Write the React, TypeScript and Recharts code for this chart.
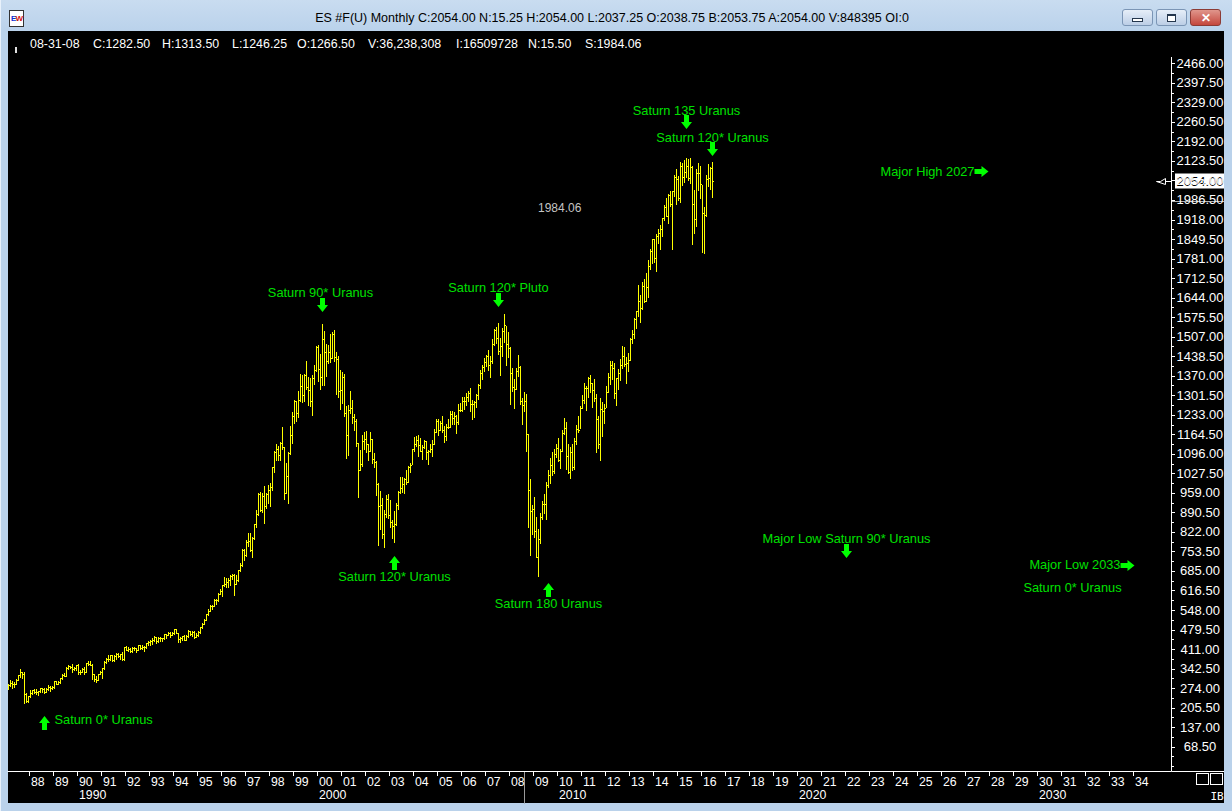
import { Bar, ComposedChart, ReferenceDot, ReferenceLine, XAxis, YAxis } from 'recharts';

// ES #F(U) monthly bars, Feb 1987 .. Jun 2016 (one row per year in the arrays below)
const FIRST_YEAR = 1987;
const FIRST_MONTH = 2;
const SLOT_COUNT = 582; // months on the time axis, runs on into 2035

const highs = [
  287.3, 301.9, 297.3, 296.4, 306.9, 319.0, 340.0, 330.0, 330.0, 256.0, 248.0,
  267.0, 268.5, 272.0, 270.0, 264.0, 274.0, 274.5, 274.0, 273.5, 284.0, 280.0, 280.0,
  298.0, 300.0, 298.0, 310.0, 322.0, 328.0, 347.0, 354.0, 353.0, 360.0, 347.0, 354.0,
  360.0, 337.0, 344.0, 347.0, 363.0, 369.0, 369.0, 358.0, 324.0, 318.0, 323.0, 333.0,
  344.0, 370.0, 378.0, 391.0, 390.0, 390.0, 391.0, 396.0, 396.0, 395.0, 399.0, 418.0,
  421.0, 418.0, 414.0, 418.0, 420.0, 416.0, 425.0, 425.0, 425.0, 423.0, 432.0, 441.0,
  443.0, 450.0, 456.0, 452.0, 453.0, 453.0, 451.0, 464.0, 464.0, 470.0, 470.0, 471.0,
  482.0, 482.0, 469.0, 453.0, 458.0, 462.0, 459.0, 477.0, 474.0, 474.0, 475.0, 466.0,
  473.0, 490.0, 503.0, 515.0, 534.0, 551.0, 564.0, 565.0, 587.0, 588.0, 609.0, 623.0,
  637.0, 664.0, 660.0, 659.0, 672.0, 673.0, 675.0, 672.0, 690.0, 714.0, 762.0, 761.0,
  795.0, 818.0, 817.0, 804.0, 851.0, 900.0, 957.0, 961.0, 960.0, 984.0, 960.0, 986.0,
  992.0, 1051.0, 1105.0, 1130.0, 1122.0, 1138.0, 1191.0, 1121.0, 1063.0, 1103.0, 1192.0, 1244.0,
  1285.0, 1282.0, 1317.0, 1375.0, 1372.0, 1375.0, 1421.0, 1367.0, 1361.0, 1373.0, 1408.0, 1474.0,
  1478.0, 1445.0, 1553.0, 1528.0, 1482.0, 1477.0, 1518.0, 1525.0, 1530.0, 1454.0, 1438.0, 1389.0,
  1384.0, 1377.0, 1263.0, 1269.0, 1316.0, 1286.0, 1236.0, 1218.0, 1134.0, 1110.0, 1163.0, 1173.0,
  1176.0, 1131.0, 1174.0, 1147.0, 1099.0, 1070.0, 994.0, 965.0, 942.0, 900.0, 952.0, 954.0,
  935.0, 864.0, 895.0, 924.0, 965.0, 1015.0, 1015.0, 1011.0, 1040.0, 1054.0, 1064.0, 1112.0,
  1155.0, 1159.0, 1163.0, 1150.0, 1128.0, 1146.0, 1141.0, 1110.0, 1131.0, 1143.0, 1183.0, 1218.0,
  1217.0, 1212.0, 1229.0, 1192.0, 1200.0, 1219.0, 1246.0, 1245.0, 1243.0, 1233.0, 1270.0, 1276.0,
  1295.0, 1297.0, 1310.0, 1318.0, 1326.0, 1284.0, 1281.0, 1306.0, 1340.0, 1390.0, 1407.0, 1432.0,
  1441.0, 1461.0, 1438.0, 1498.0, 1535.0, 1541.0, 1556.0, 1504.0, 1539.0, 1587.0, 1545.0, 1524.0,
  1472.0, 1396.0, 1359.0, 1397.0, 1441.0, 1405.0, 1292.0, 1313.5, 1305.0, 1167.0, 1007.0, 918.0,
  944.0, 876.0, 832.0, 888.0, 930.0, 956.0, 996.0, 1039.0, 1080.0, 1101.0, 1113.0, 1130.0,
  1150.0, 1113.0, 1180.0, 1220.0, 1206.0, 1131.0, 1120.0, 1129.0, 1150.0, 1196.0, 1227.0, 1263.0,
  1303.0, 1345.0, 1333.0, 1365.0, 1371.0, 1346.0, 1357.0, 1307.0, 1230.0, 1293.0, 1278.0, 1270.0,
  1333.0, 1378.0, 1420.0, 1422.0, 1416.0, 1363.0, 1392.0, 1427.0, 1475.0, 1471.0, 1434.0, 1448.0,
  1504.0, 1530.0, 1574.0, 1598.0, 1687.0, 1654.0, 1698.0, 1710.0, 1730.0, 1775.0, 1814.0, 1849.0,
  1851.0, 1867.0, 1884.0, 1897.0, 1925.0, 1968.0, 1992.0, 2006.0, 2019.0, 2019.0, 2075.0, 2094.0,
  2072.0, 2120.0, 2117.0, 2126.0, 2135.0, 2130.0, 2133.0, 2105.0, 2021.0, 2094.0, 2117.0, 2105.0,
  2038.0, 1963.0, 2073.0, 2111.0, 2103.0, 2120.0,
];

const lows = [
  271.9, 282.6, 276.0, 276.3, 288.7, 301.0, 313.5, 308.5, 222.0, 225.7, 224.0,
  243.0, 255.0, 256.0, 254.0, 249.0, 260.0, 262.0, 256.0, 260.0, 269.0, 263.0, 272.0,
  275.0, 287.0, 287.0, 292.0, 305.0, 315.0, 316.0, 340.0, 343.0, 330.0, 338.0, 339.0,
  322.0, 322.0, 331.0, 325.0, 330.0, 355.0, 354.0, 307.0, 300.0, 294.0, 301.0, 322.0,
  309.0, 341.0, 362.0, 370.0, 374.0, 368.0, 370.0, 377.0, 384.0, 377.0, 374.0, 371.0,
  407.0, 405.0, 400.0, 399.0, 408.0, 401.0, 406.0, 410.0, 413.0, 404.0, 416.0, 427.0,
  426.0, 429.0, 440.0, 432.0, 437.0, 441.0, 441.0, 447.0, 450.0, 459.0, 454.0, 460.0,
  464.0, 466.0, 436.0, 435.0, 442.0, 442.0, 443.0, 455.0, 460.0, 457.0, 449.0, 452.0,
  457.0, 469.0, 484.0, 499.0, 513.0, 530.0, 545.0, 551.0, 561.0, 570.0, 580.0, 603.0,
  597.0, 633.0, 628.0, 630.0, 636.0, 656.0, 601.0, 639.0, 649.0, 684.0, 703.0, 723.0,
  737.0, 773.0, 756.0, 733.0, 798.0, 839.0, 882.0, 897.0, 893.0, 855.0, 906.0, 922.0,
  912.0, 970.0, 1033.0, 1076.0, 1074.0, 1074.0, 1114.0, 939.0, 957.0, 923.0, 1097.0, 1133.0,
  1205.0, 1211.0, 1224.0, 1281.0, 1277.0, 1281.0, 1324.0, 1268.0, 1264.0, 1233.0, 1342.0, 1387.0,
  1350.0, 1325.0, 1339.0, 1339.0, 1369.0, 1416.0, 1418.0, 1431.0, 1420.0, 1305.0, 1294.0, 1254.0,
  1274.0, 1229.0, 1081.0, 1092.0, 1240.0, 1203.0, 1181.0, 1124.0, 945.0, 1038.0, 1054.0, 1114.0,
  1101.0, 1074.0, 1106.0, 1063.0, 1048.0, 952.0, 775.0, 833.0, 800.0, 768.0, 873.0, 872.0,
  840.0, 800.0, 788.0, 847.0, 902.0, 958.0, 962.0, 960.0, 990.0, 996.0, 1031.0, 1060.0,
  1106.0, 1124.0, 1088.0, 1107.0, 1077.0, 1118.0, 1078.0, 1060.0, 1102.0, 1090.0, 1131.0, 1173.0,
  1163.0, 1180.0, 1171.0, 1136.0, 1146.0, 1188.0, 1191.0, 1202.0, 1201.0, 1168.0, 1202.0, 1245.0,
  1245.0, 1253.0, 1268.0, 1280.0, 1245.0, 1219.0, 1224.0, 1261.0, 1290.0, 1327.0, 1360.0, 1385.0,
  1403.0, 1389.0, 1364.0, 1416.0, 1476.0, 1484.0, 1447.0, 1371.0, 1439.0, 1489.0, 1407.0, 1436.0,
  1271.0, 1317.0, 1257.0, 1324.0, 1370.0, 1272.0, 1200.0, 1246.3, 1107.0, 840.0, 741.0, 815.0,
  805.0, 735.0, 667.0, 783.0, 867.0, 888.0, 869.0, 979.0, 992.0, 1020.0, 1029.0, 1086.0,
  1071.0, 1045.0, 1106.0, 1165.0, 1041.0, 1029.0, 1011.0, 1040.0, 1041.0, 1132.0, 1174.0, 1187.0,
  1257.0, 1275.0, 1249.0, 1294.0, 1312.0, 1259.0, 1282.0, 1101.0, 1115.0, 1075.0, 1159.0, 1203.0,
  1259.0, 1312.0, 1341.0, 1358.0, 1292.0, 1266.0, 1325.0, 1354.0, 1396.0, 1403.0, 1343.0, 1385.0,
  1426.0, 1485.0, 1502.0, 1536.0, 1581.0, 1560.0, 1604.0, 1627.0, 1633.0, 1646.0, 1746.0, 1767.0,
  1770.0, 1737.0, 1834.0, 1814.0, 1859.0, 1915.0, 1930.0, 1904.0, 1965.0, 1814.0, 2001.0, 1973.0,
  1988.0, 1981.0, 2040.0, 2048.0, 2067.0, 2057.0, 2045.0, 1831.0, 1872.0, 1894.0, 2020.0, 1993.0,
  1804.0, 1802.0, 1932.0, 2034.0, 2025.0, 1998.0,
];

const closes = [
  284.2, 291.7, 288.4, 290.1, 304.0, 318.7, 329.8, 321.8, 251.8, 230.3, 247.1,
  257.1, 267.8, 258.9, 261.3, 262.2, 273.5, 272.0, 261.5, 271.9, 279.0, 273.7, 277.7,
  297.5, 288.9, 294.9, 309.6, 320.5, 318.0, 346.1, 351.5, 349.2, 340.4, 346.0, 353.4,
  329.1, 331.9, 339.9, 330.8, 361.2, 358.0, 356.2, 322.6, 306.1, 304.0, 322.2, 330.2,
  343.9, 367.1, 375.2, 375.4, 389.8, 371.2, 387.8, 395.4, 387.9, 392.5, 375.2, 417.1,
  408.8, 412.7, 403.7, 415.0, 415.4, 408.1, 424.2, 414.0, 417.8, 418.7, 431.4, 435.7,
  438.8, 443.4, 451.7, 440.2, 450.2, 450.5, 448.1, 463.6, 458.9, 467.8, 461.8, 466.5,
  481.6, 467.1, 445.8, 450.9, 456.5, 444.3, 458.3, 475.5, 462.7, 472.4, 453.7, 459.3,
  470.4, 487.4, 500.7, 514.7, 533.4, 544.8, 562.1, 561.9, 584.4, 581.5, 605.4, 615.9,
  636.0, 640.4, 645.5, 654.2, 669.1, 670.6, 640.0, 652.0, 687.3, 705.3, 757.0, 740.7,
  786.2, 790.8, 757.1, 801.3, 848.3, 885.1, 954.3, 899.5, 947.3, 914.6, 955.4, 970.4,
  980.3, 1049.3, 1101.8, 1111.8, 1090.8, 1133.8, 1120.7, 957.3, 1017.0, 1098.7, 1163.6, 1229.2,
  1279.6, 1238.3, 1286.4, 1335.2, 1301.8, 1372.7, 1328.7, 1320.4, 1282.7, 1362.9, 1388.9, 1469.3,
  1394.5, 1366.4, 1498.6, 1452.4, 1420.6, 1454.6, 1430.8, 1517.7, 1436.5, 1429.4, 1315.0, 1320.3,
  1366.0, 1239.9, 1160.3, 1249.5, 1255.8, 1224.4, 1211.2, 1133.6, 1040.9, 1059.8, 1139.5, 1148.1,
  1130.2, 1106.7, 1147.4, 1076.9, 1067.1, 989.8, 911.6, 916.1, 815.3, 885.8, 936.3, 879.8,
  855.7, 841.2, 848.2, 916.9, 963.6, 974.5, 990.3, 1008.0, 996.0, 1050.7, 1058.2, 1111.9,
  1131.1, 1144.9, 1126.2, 1107.3, 1120.7, 1140.8, 1101.7, 1104.2, 1114.6, 1130.2, 1173.8, 1211.9,
  1181.3, 1203.6, 1180.6, 1156.9, 1191.5, 1191.3, 1234.2, 1220.3, 1228.8, 1207.0, 1249.5, 1248.3,
  1280.1, 1280.7, 1294.8, 1310.6, 1270.1, 1270.2, 1276.7, 1303.8, 1335.9, 1377.9, 1400.6, 1418.3,
  1438.2, 1406.8, 1420.9, 1482.4, 1530.6, 1503.4, 1455.3, 1474.0, 1526.8, 1549.4, 1481.1, 1468.4,
  1378.6, 1330.6, 1322.7, 1385.6, 1400.4, 1280.0, 1267.4, 1282.5, 1166.4, 968.8, 896.2, 903.3,
  825.9, 735.1, 797.9, 872.8, 919.1, 919.3, 987.5, 1020.6, 1057.1, 1036.2, 1095.6, 1115.1,
  1073.9, 1104.5, 1169.4, 1186.7, 1089.4, 1030.7, 1101.6, 1049.3, 1141.2, 1183.3, 1180.6, 1257.6,
  1286.1, 1327.2, 1325.8, 1363.6, 1345.2, 1320.6, 1292.3, 1218.9, 1131.4, 1253.3, 1247.0, 1257.6,
  1312.4, 1365.7, 1408.5, 1397.9, 1310.3, 1362.2, 1379.3, 1406.6, 1440.7, 1412.2, 1416.2, 1426.2,
  1498.1, 1514.7, 1569.2, 1597.6, 1630.7, 1606.3, 1685.7, 1633.0, 1681.6, 1756.5, 1805.8, 1848.4,
  1782.6, 1859.5, 1872.3, 1884.0, 1923.6, 1960.2, 1930.7, 2003.4, 1972.3, 2018.1, 2067.6, 2058.9,
  1995.0, 2104.5, 2067.9, 2085.5, 2107.4, 2063.1, 2103.8, 1972.2, 1920.0, 2079.4, 2080.4, 2043.9,
  1940.2, 1932.2, 2059.7, 2065.3, 2097.0, 2054.0,
];

const priceLabels = [
  68.5, 137, 205.5, 274, 342.5, 411, 479.5, 548, 616.5, 685, 753.5, 822,
  890.5, 959, 1027.5, 1096, 1164.5, 1233, 1301.5, 1370, 1438.5, 1507, 1575.5, 1644,
  1712.5, 1781, 1849.5, 1918, 1986.5, 2055, 2123.5, 2192, 2260.5, 2329, 2397.5, 2466,
];

const yearLabels = [
  1988, 1989, 1990, 1991, 1992, 1993, 1994, 1995, 1996, 1997, 1998, 1999,
  2000, 2001, 2002, 2003, 2004, 2005, 2006, 2007, 2008, 2009, 2010, 2011,
  2012, 2013, 2014, 2015, 2016, 2017, 2018, 2019, 2020, 2021, 2022, 2023,
  2024, 2025, 2026, 2027, 2028, 2029, 2030, 2031, 2032, 2033, 2034,
];

const arrowMarks = [
  { month: '1988-08', price: 177, dir: 'up' },
  { month: '2000-03', price: 1594, dir: 'down' },
  { month: '2003-03', price: 737, dir: 'up' },
  { month: '2007-07', price: 1612, dir: 'down' },
  { month: '2009-08', price: 642, dir: 'up' },
  { month: '2015-05', price: 2234, dir: 'down' },
  { month: '2016-06', price: 2141, dir: 'down' },
  { month: '2027-12', price: 2088, dir: 'right' },
  { month: '2022-01', price: 731, dir: 'down' },
  { month: '2034-01', price: 707, dir: 'right' },
];

const textMarks = [
  { month: '1989-01', price: 163, text: 'Saturn 0* Uranus', anchor: 'start' },
  { month: '2000-02', price: 1662, text: 'Saturn 90* Uranus', anchor: 'middle' },
  { month: '2003-03', price: 667, text: 'Saturn 120* Uranus', anchor: 'middle' },
  { month: '2007-07', price: 1680, text: 'Saturn 120* Pluto', anchor: 'middle' },
  { month: '2009-08', price: 571, text: 'Saturn 180 Uranus', anchor: 'middle' },
  { month: '2015-05', price: 2300, text: 'Saturn 135 Uranus', anchor: 'middle' },
  { month: '2016-06', price: 2206, text: 'Saturn 120* Uranus', anchor: 'middle' },
  { month: '2027-05', price: 2088, text: 'Major High 2027', anchor: 'end' },
  { month: '2022-01', price: 800, text: 'Major Low Saturn 90* Uranus', anchor: 'middle' },
  { month: '2033-06', price: 708, text: 'Major Low 2033', anchor: 'end' },
  { month: '2031-06', price: 626, text: 'Saturn 0* Uranus', anchor: 'middle' },
];

const LAST_PRICE = 2054;
const CURSOR_MONTH = '2008-08';
const CURSOR_PRICE = 1984.06;

const TITLE = 'ES #F(U) Monthly C:2054.00 N:15.25 H:2054.00 L:2037.25 O:2038.75 B:2053.75 A:2054.00 V:848395 OI:0';
const infoItems = [
  { x: 30, text: '08-31-08' },
  { x: 93, text: 'C:1282.50' },
  { x: 162, text: 'H:1313.50' },
  { x: 232, text: 'L:1246.25' },
  { x: 297, text: 'O:1266.50' },
  { x: 368, text: 'V:36,238,308' },
  { x: 456, text: 'I:16509728' },
  { x: 528, text: 'N:15.50' },
  { x: 585, text: 'S:1984.06' },
];

const FONT = '"Liberation Sans", Arial, sans-serif';
const BAR_COLOR = '#ffff00';
const NOTE_TEXT = '#00e000';
const NOTE_ARROW = '#00ff00';
const NOTE_SIZE = 12.8;

const monthKey = (i: number) => {
  const t = FIRST_MONTH - 1 + i;
  const y = FIRST_YEAR + Math.floor(t / 12);
  const m = (t % 12) + 1;
  return `${y}-${String(m).padStart(2, '0')}`;
};

type Row = { key: string; high: number | null; low: number | null; close: number | null };

const rows: Row[] = Array.from({ length: SLOT_COUNT }, (_, i) => ({
  key: monthKey(i),
  high: i < highs.length ? highs[i] : null,
  low: i < lows.length ? lows[i] : null,
  close: i < closes.length ? closes[i] : null,
}));

const labelSet = new Set(priceLabels);
const priceTicks = [0, ...priceLabels.map((v) => v - 34.25), ...priceLabels];
const yearTicks = yearLabels.map((y) => `${y}-01`);

function OhlcShape(props: any) {
  const { x, y, width, height, payload } = props;
  if (!payload || payload.high == null || x == null || y == null) return <g />;
  const h = Math.abs(height || 0);
  const top = height >= 0 ? y : y + height;
  const px = Math.floor(x + (width || 0) / 2);
  const yTop = Math.round(top);
  const yBottom = Math.round(top + h);
  const range = payload.high - payload.low;
  const yClose = range > 0 ? Math.round(top + ((payload.high - payload.close) / range) * h) : yTop;
  return (
    <g shapeRendering="crispEdges" fill={BAR_COLOR}>
      <rect x={px} y={yTop} width={1} height={Math.max(1, yBottom - yTop + 1)} />
      <rect x={px + 1} y={Math.min(yClose, yBottom)} width={1} height={1} />
    </g>
  );
}

function PriceTick(props: any) {
  const { x, y, payload } = props;
  const v = payload.value as number;
  const major = labelSet.has(v);
  const ly = Math.round(y) + 0.5;
  return (
    <g>
      <line x1={x} x2={x + (major ? 3 : 2)} y1={ly} y2={ly} stroke="#ffffff" shapeRendering="crispEdges" />
      {major && (
        <text x={x + 28.5} y={y} textAnchor="middle" dominantBaseline="central" fill="#ffffff" fontSize={13} fontFamily={FONT}>
          {v.toFixed(2)}
        </text>
      )}
    </g>
  );
}

function YearTick(props: any) {
  const { x, y, payload } = props;
  const year = Number(String(payload.value).slice(0, 4));
  const tx = Math.floor(x) - 0.5;
  return (
    <g fontFamily={FONT} fontSize={12.3} fill="#ffffff">
      <line x1={tx} x2={tx} y1={y} y2={y + 4} stroke="#ffffff" shapeRendering="crispEdges" />
      <text x={x + 0.5} y={y + 10} dominantBaseline="central">
        {String(year).slice(2)}
      </text>
      {year % 10 === 0 && (
        <text x={x + 0.5} y={y + 23} dominantBaseline="central">
          {year}
        </text>
      )}
    </g>
  );
}

function ArrowGlyph({ cx, cy, dir }: { cx: number; cy: number; dir: string }) {
  let pts: number[][];
  if (dir === 'right') {
    const t = cx;
    const c = Math.round(cy) + 0.5;
    pts = [[t - 14, c - 2.5], [t - 7, c - 2.5], [t - 7, c - 5.5], [t, c], [t - 7, c + 5.5], [t - 7, c + 2.5], [t - 14, c + 2.5]];
  } else {
    const s = dir === 'down' ? -1 : 1;
    const t = Math.round(cy);
    pts = [[cx - 2.5, t + 14 * s], [cx - 2.5, t + 7 * s], [cx - 5.5, t + 7 * s], [cx, t], [cx + 5.5, t + 7 * s], [cx + 2.5, t + 7 * s], [cx + 2.5, t + 14 * s]];
  }
  return <polygon points={pts.map((p) => p.join(',')).join(' ')} fill={NOTE_ARROW} />;
}

function CurrentPrice(props: any) {
  const { x1, x2, y1 } = props;
  const right = Math.max(x1, x2);
  const y = Math.round(y1) + 0.5;
  return (
    <g>
      <rect x={right + 3.5} y={y - 8} width={49} height={15} fill="#ffffff" />
      <text x={right + 28.5} y={y} textAnchor="middle" dominantBaseline="central" fill="#000000" fontSize={13} fontFamily={FONT}>
        {LAST_PRICE.toFixed(2)}
      </text>
      <path d={`M${right - 15} ${y} H${right - 11} L${right - 6} ${y - 3} V${y + 3} Z M${right - 6} ${y} H${right}`} stroke="#ffffff" fill="none" />
    </g>
  );
}

function CursorPriceLine(props: any) {
  const { x1, x2, y1 } = props;
  const right = Math.max(x1, x2);
  const y = Math.round(y1) + 0.5;
  return <line x1={right} x2={right + 52.5} y1={y} y2={y} stroke="#b0b0b0" />;
}

function CursorTimeLine(props: any) {
  const { x1, y1, y2 } = props;
  const bottom = Math.max(y1, y2);
  const x = Math.floor(x1) + 0.5;
  return <line x1={x} x2={x} y1={bottom} y2={bottom + 32} stroke="#9a9a9a" />;
}

function WinButton({ left, red, children }: { left: number; red?: boolean; children: any }) {
  return (
    <div
      style={{
        position: 'absolute', left, top: 9, width: 31, height: 17, boxSizing: 'border-box',
        border: `1px solid ${red ? '#8c3b35' : '#7b95b5'}`, borderRadius: 3,
        background: red ? 'linear-gradient(#e0968c, #c4473d)' : 'linear-gradient(#e6eef8, #bccee6)',
        display: 'flex', alignItems: 'center', justifyContent: 'center',
      }}
    >
      {children}
    </div>
  );
}

export default function App() {
  return (
    <div style={{ position: 'absolute', left: 0, top: 0, width: 1232, height: 811, overflow: 'hidden', background: '#bad2eb', fontFamily: FONT }}>
      <div style={{ position: 'absolute', left: 0, top: 0, width: 1232, height: 31, background: 'linear-gradient(#c9dcf0, #bad2eb)' }} />
      <div style={{ position: 'absolute', left: 0, top: 0, width: 1, height: 811, background: '#e8f1fb' }} />
      <div
        style={{
          position: 'absolute', left: 9, top: 10, width: 13, height: 15, background: '#ffffff', border: '1px solid #333',
          fontSize: 8, fontWeight: 'bold', lineHeight: '15px', textAlign: 'center', letterSpacing: -1,
        }}
      >
        <span style={{ color: '#1030d0' }}>E</span>
        <span style={{ color: '#d01010' }}>W</span>
      </div>
      <div style={{ position: 'absolute', left: 0, top: 10, width: 1224, textAlign: 'center', fontSize: 12.5, color: '#000', lineHeight: '16px' }}>
        {TITLE}
      </div>
      <WinButton left={1122}>
        <div style={{ width: 9, height: 2, marginTop: 5, border: '1px solid #24364d', background: '#ffffff' }} />
      </WinButton>
      <WinButton left={1156}>
        <div style={{ width: 7, height: 5, border: '1px solid #24364d', borderTopWidth: 2, background: '#ffffff' }} />
      </WinButton>
      <WinButton left={1190} red>
        <span style={{ color: '#ffffff', fontWeight: 'bold', fontSize: 12, lineHeight: '12px' }}>✕</span>
      </WinButton>

      <div style={{ position: 'absolute', left: 8, top: 31, width: 1216, height: 772, background: '#000000' }} />
      <div style={{ position: 'absolute', left: 15, top: 47, width: 2, height: 6, background: '#e0e0e0' }} />
      {infoItems.map((it) => (
        <div key={it.text} style={{ position: 'absolute', left: it.x, top: 36, fontSize: 12.4, lineHeight: '16px', color: '#ffffff' }}>
          {it.text}
        </div>
      ))}

      <div style={{ position: 'absolute', left: 0, top: 0 }}>
        <ComposedChart
          width={1232}
          height={811}
          data={rows}
          margin={{ top: 57, right: 8.5, bottom: 6.5, left: 7.5 }}
          style={{ fontFamily: FONT }}
        >
          <XAxis
            dataKey="key"
            ticks={yearTicks}
            interval={0}
            height={33}
            tickLine={false}
            tickSize={0}
            tickMargin={0}
            axisLine={{ stroke: '#ffffff' }}
            tick={<YearTick />}
          />
          <YAxis
            orientation="right"
            type="number"
            width={52}
            domain={[-18.5, 2488.1]}
            allowDataOverflow
            ticks={priceTicks}
            interval={0}
            tickLine={false}
            tickSize={0}
            tickMargin={0}
            axisLine={{ stroke: '#ffffff' }}
            tick={<PriceTick />}
          />
          <Bar
            dataKey={(d: Row) => (d.high == null || d.low == null ? null : [d.low, d.high])}
            shape={<OhlcShape />}
            isAnimationActive={false}
          />
          <ReferenceLine y={CURSOR_PRICE} shape={<CursorPriceLine />} />
          <ReferenceLine y={LAST_PRICE} shape={<CurrentPrice />} />
          <ReferenceLine x={CURSOR_MONTH} shape={<CursorTimeLine />} />
          <ReferenceDot
            x={CURSOR_MONTH}
            y={CURSOR_PRICE}
            shape={(p: any) => (
              <text x={p.cx + 13.5} y={p.cy + 7.5} dominantBaseline="central" fill="#c4c4c4" fontSize={12} fontFamily={FONT}>
                {CURSOR_PRICE.toFixed(2)}
              </text>
            )}
          />
          {arrowMarks.map((a, i) => (
            <ReferenceDot
              key={`a${i}`}
              x={a.month}
              y={a.price}
              ifOverflow="visible"
              shape={(p: any) => <ArrowGlyph cx={p.cx} cy={p.cy} dir={a.dir} />}
            />
          ))}
          {textMarks.map((t, i) => (
            <ReferenceDot
              key={`t${i}`}
              x={t.month}
              y={t.price}
              ifOverflow="visible"
              shape={(p: any) => (
                <text x={p.cx} y={p.cy} textAnchor={t.anchor} dominantBaseline="central" fill={NOTE_TEXT} fontSize={NOTE_SIZE} fontFamily={FONT}>
                  {t.text}
                </text>
              )}
            />
          ))}
        </ComposedChart>
      </div>

      <svg width={1232} height={811} style={{ position: 'absolute', left: 0, top: 0, pointerEvents: 'none' }}>
        <line x1={1171.5} x2={1224} y1={771.5} y2={771.5} stroke="#ffffff" />
        <rect x={1196.5} y={773.5} width={12} height={11} fill="none" stroke="#ffffff" />
        <rect x={1210.5} y={773.5} width={12} height={11} fill="none" stroke="#ffffff" />
        <text x={1217} y={796} textAnchor="middle" dominantBaseline="central" fill="#ffffff" fontSize={11} fontFamily='"DejaVu Sans Mono", monospace'>
          IB
        </text>
      </svg>
    </div>
  );
}
